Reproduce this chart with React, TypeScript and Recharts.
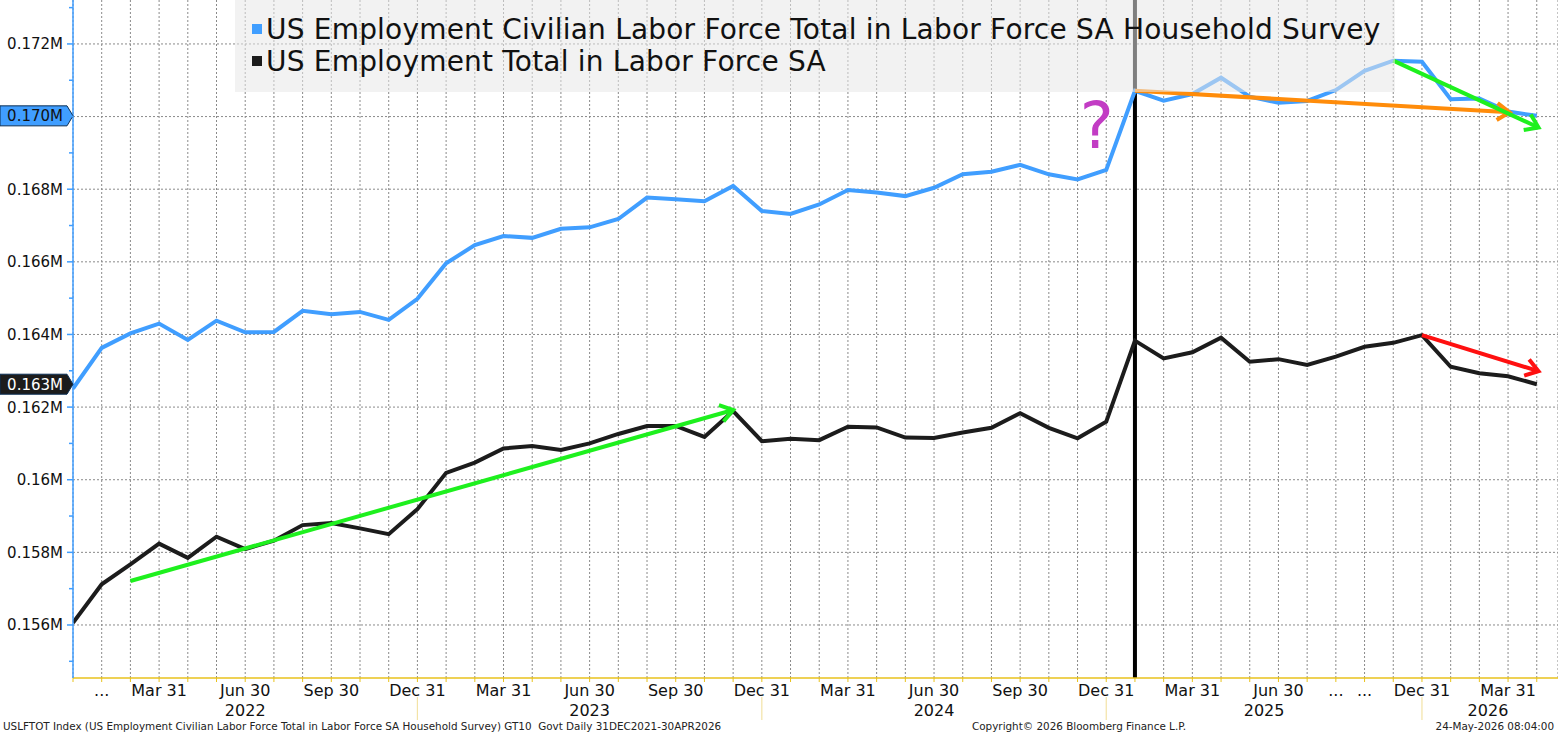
import React from 'react';
import {
  LineChart, Line, XAxis, YAxis, CartesianGrid, ReferenceLine, ReferenceDot, Legend,
} from 'recharts';

// monthly household survey prints, Oct 2025 was never collected
const months = [
  'Dec 2021',
  'Jan 2022', 'Feb 2022', 'Mar 2022', 'Apr 2022', 'May 2022', 'Jun 2022',
  'Jul 2022', 'Aug 2022', 'Sep 2022', 'Oct 2022', 'Nov 2022', 'Dec 2022',
  'Jan 2023', 'Feb 2023', 'Mar 2023', 'Apr 2023', 'May 2023', 'Jun 2023',
  'Jul 2023', 'Aug 2023', 'Sep 2023', 'Oct 2023', 'Nov 2023', 'Dec 2023',
  'Jan 2024', 'Feb 2024', 'Mar 2024', 'Apr 2024', 'May 2024', 'Jun 2024',
  'Jul 2024', 'Aug 2024', 'Sep 2024', 'Oct 2024', 'Nov 2024', 'Dec 2024',
  'Jan 2025', 'Feb 2025', 'Mar 2025', 'Apr 2025', 'May 2025', 'Jun 2025',
  'Jul 2025', 'Aug 2025', 'Sep 2025', 'Nov 2025', 'Dec 2025',
  'Jan 2026', 'Feb 2026', 'Mar 2026', 'Apr 2026',
];

// thousands of persons
const civilianLaborForce = [
  162510,
  163630, 164030, 164300, 163850, 164380, 164060,
  164070, 164650, 164560, 164620, 164400, 164980,
  165960, 166460, 166710, 166660, 166910, 166950,
  167180, 167770, 167720, 167670, 168090, 167400,
  167320, 167580, 167980, 167910, 167810, 168040,
  168410, 168480, 168670, 168410, 168270, 168530,
  170710, 170440, 170620, 171070, 170550, 170380,
  170430, 170730, 171260, 171540, 171510,
  170480, 170500, 170140, 170020,
];

const totalInLaborForce = [
  156060,
  157120, 157670, 158240, 157850, 158430, 158090,
  158320, 158750, 158810, 158660, 158500, 159190,
  160190, 160470, 160860, 160930, 160820, 161000,
  161260, 161480, 161480, 161180, 161890, 161060,
  161130, 161090, 161460, 161440, 161160, 161150,
  161300, 161430, 161830, 161430, 161140, 161600,
  163830, 163340, 163510, 163910, 163250, 163320,
  163160, 163390, 163660, 163770, 163980,
  163110, 162930, 162850, 162630,
];

const monthTickIdx = [1, 3, 6, 9, 12, 15, 18, 21, 24, 27, 30, 33, 36, 39, 42, 44, 45, 47, 50];
const monthTickText = [
  '...', 'Mar 31', 'Jun 30', 'Sep 30', 'Dec 31', 'Mar 31', 'Jun 30', 'Sep 30', 'Dec 31',
  'Mar 31', 'Jun 30', 'Sep 30', 'Dec 31', 'Mar 31', 'Jun 30', '...', '...', 'Dec 31', 'Mar 31',
];

const yearTickIdx = [6, 18, 30, 41.5, 49.3];
const yearTickText = ['2022', '2023', '2024', '2025', '2026'];
const yearBreakIdx = [12, 24, 36, 47];

const yMajor = [156000, 158000, 160000, 162000, 164000, 166000, 168000, 170000, 172000];
const yAll = [
  155000, 156000, 157000, 158000, 159000, 160000, 161000, 162000, 163000, 164000,
  165000, 166000, 167000, 168000, 169000, 170000, 171000, 172000, 173000,
];

const breakIdx = 37;
const questionAt = { x: 35.67, y: 169130 };

// hand-drawn trend arrows: [start, end] as [month index, value]
const upTrend = [[2, 157210], [23, 161920]];
const flatTrend = [[37, 170710], [50.05, 170120]];
const lfDrop = [[46, 171540], [51.06, 169700]];
const totalDrop = [[47, 163980], [51.06, 162990]];

const data = months.map((m, i) => ({
  i,
  month: m,
  clf: civilianLaborForce[i],
  tot: totalInLaborForce[i],
}));

const BLUE = '#409eff';
const BLACK = '#1c1c1c';
const GOLD = '#e8c21c';
const FONT = '"DejaVu Sans", Verdana, sans-serif';

const fmtTick = (v: number) => `${parseFloat((v / 1e6).toFixed(3))}M`;
const fmtTag = (v: number) => `${(v / 1e6).toFixed(3)}M`;

function YTick({ x, y, payload }: any) {
  const v = payload.value;
  const major = v % 2000 === 0;
  return (
    <g>
      <line x1={x + (major ? 4 : 6)} x2={x + 10} y1={y} y2={y} stroke={BLUE} strokeWidth={1.5} />
      {major && v !== 170000 && (
        <text x={x} y={y} dy={5.5} textAnchor="end" fontFamily={FONT} fontSize={15} fill="#111">
          {fmtTick(v)}
        </text>
      )}
    </g>
  );
}

function MonthTick({ x, y, payload }: any) {
  const k = monthTickIdx.indexOf(payload.value);
  if (k < 0) return null;
  return (
    <text x={x} y={y + 12} textAnchor="middle" fontFamily={FONT} fontSize={16} fill="#111">
      {monthTickText[k]}
    </text>
  );
}

function YearTick({ x, y, payload }: any) {
  const v = payload.value;
  if (yearBreakIdx.includes(v)) {
    return <line x1={x} x2={x} y1={y + 1} y2={y + 24} stroke="#f3e3a6" strokeWidth={1.2} />;
  }
  const k = yearTickIdx.indexOf(v);
  if (k < 0) return null;
  return (
    <text x={x} y={y + 20} textAnchor="middle" fontFamily={FONT} fontSize={16} fill="#111">
      {yearTickText[k]}
    </text>
  );
}

function Arrow(color: string) {
  return (p: any) => {
    const { x1, y1, x2, y2 } = p;
    const ang = Math.atan2(y2 - y1, x2 - x1);
    const len = 15;
    const spread = 0.6;
    const a = ang + Math.PI - spread;
    const b = ang + Math.PI + spread;
    const pts = `${x2 + len * Math.cos(a)},${y2 + len * Math.sin(a)} ${x2},${y2} ${x2 + len * Math.cos(b)},${y2 + len * Math.sin(b)}`;
    return (
      <g>
        <line x1={x1} y1={y1} x2={x2} y2={y2} stroke={color} strokeWidth={4} />
        <polyline points={pts} fill="none" stroke={color} strokeWidth={4} />
      </g>
    );
  };
}

function Tag(fill: string, text: string, label: string) {
  return (p: any) => {
    const { cx, cy } = p;
    const pts = `${cx - 73},${cy - 10} ${cx - 6},${cy - 10} ${cx},${cy} ${cx - 6},${cy + 10} ${cx - 73},${cy + 10}`;
    return (
      <g>
        <polygon points={pts} fill={fill} stroke="#0b2f55" strokeWidth={1} />
        <text x={cx - 10} y={cy} dy={5.5} textAnchor="end" fontFamily={FONT} fontSize={15} fill={text}>
          {label}
        </text>
      </g>
    );
  };
}

function LegendBox({ payload }: any) {
  return (
    <div
      style={{
        background: 'rgba(231,231,231,0.55)',
        width: 1160,
        height: 92,
        boxSizing: 'border-box',
        paddingTop: 14,
        paddingLeft: 17,
        fontFamily: FONT,
        fontSize: 28,
        letterSpacing: 0.2,
        lineHeight: '32px',
        color: '#111',
        whiteSpace: 'nowrap',
      }}
    >
      {(payload || []).map((e: any) => (
        <div key={e.value}>
          <span
            style={{
              display: 'inline-block', width: 10, height: 10, background: e.color,
              marginRight: 4, verticalAlign: 'middle', position: 'relative', top: -2,
            }}
          />
          {e.value}
        </div>
      ))}
    </div>
  );
}

const seg = (s: number[][]) => [{ x: s[0][0], y: s[0][1] }, { x: s[1][0], y: s[1][1] }];

const footStyle: React.CSSProperties = {
  position: 'absolute', top: 720, fontFamily: FONT, fontSize: 10.4, color: '#222', whiteSpace: 'pre',
};

export default function App() {
  const lastClf = civilianLaborForce[civilianLaborForce.length - 1];
  const lastTot = totalInLaborForce[totalInLaborForce.length - 1];
  return (
    <div style={{ position: 'absolute', left: 0, top: 0, width: 1558, height: 734, background: '#fff' }}>
      <LineChart width={1558} height={734} data={data} margin={{ top: 0, right: 0, bottom: 0, left: 0 }}>
        <CartesianGrid
          stroke="#8a8a8a"
          strokeDasharray="2 2"
          horizontalValues={yMajor}
        />
        <XAxis
          dataKey="i"
          type="number"
          domain={[0, 51.74]}
          ticks={months.map((_, i) => i)}
          interval={0}
          allowDataOverflow
          height={18}
          tickSize={4}
          tickMargin={2}
          axisLine={{ stroke: GOLD, strokeWidth: 1.5 }}
          tickLine={{ stroke: GOLD }}
          tick={<MonthTick />}
        />
        <XAxis
          xAxisId="year"
          dataKey="i"
          type="number"
          domain={[0, 51.74]}
          ticks={[...yearTickIdx, ...yearBreakIdx].sort((a, b) => a - b)}
          interval={0}
          allowDataOverflow
          height={38}
          tickSize={0}
          tickMargin={0}
          axisLine={false}
          tickLine={false}
          tick={<YearTick />}
        />
        <YAxis
          type="number"
          domain={[154540, 173210]}
          ticks={yAll}
          interval={0}
          allowDataOverflow
          width={73}
          tickSize={6}
          tickMargin={4}
          axisLine={{ stroke: BLUE, strokeWidth: 1.5 }}
          tickLine={false}
          tick={<YTick />}
        />
        <ReferenceLine x={breakIdx} stroke="#000" strokeWidth={4} ifOverflow="visible" />
        <Line
          type="linear"
          dataKey="clf"
          name="US Employment Civilian Labor Force Total in Labor Force SA Household Survey"
          stroke={BLUE}
          strokeWidth={4}
          dot={false}
          isAnimationActive={false}
        />
        <Line
          type="linear"
          dataKey="tot"
          name="US Employment Total in Labor Force SA"
          stroke={BLACK}
          strokeWidth={4}
          dot={false}
          isAnimationActive={false}
        />
        <ReferenceLine segment={seg(upTrend)} ifOverflow="visible" shape={Arrow('#1ef01e')} />
        <ReferenceLine segment={seg(flatTrend)} ifOverflow="visible" shape={Arrow('#ff8c0a')} />
        <ReferenceLine segment={seg(lfDrop)} ifOverflow="visible" shape={Arrow('#1ef01e')} />
        <ReferenceLine segment={seg(totalDrop)} ifOverflow="visible" shape={Arrow('#ff1010')} />
        <ReferenceDot
          x={questionAt.x}
          y={questionAt.y}
          ifOverflow="visible"
          shape={(p: any) => (
            <text x={p.cx} y={p.cy} textAnchor="middle" fontFamily={FONT} fontSize={64} fill="#c23cc4">
              ?
            </text>
          )}
        />
        <ReferenceDot x={0} y={lastClf} ifOverflow="visible" shape={Tag(BLUE, '#111', fmtTag(lastClf))} />
        <ReferenceDot x={0} y={lastTot} ifOverflow="visible" shape={Tag(BLACK, '#fff', fmtTag(lastTot))} />
        <Legend
          layout="horizontal"
          verticalAlign="middle"
          align="center"
          wrapperStyle={{ left: 235, top: 0, width: 1160, height: 92 }}
          content={<LegendBox />}
        />
      </LineChart>
      <div style={{ ...footStyle, left: 3 }}>
        USLFTOT Index (US Employment Civilian Labor Force Total in Labor Force SA Household Survey) GT10  Govt Daily 31DEC2021-30APR2026
      </div>
      <div style={{ ...footStyle, left: 972 }}>
        Copyright© 2026 Bloomberg Finance L.P.
      </div>
      <div style={{ ...footStyle, right: 4 }}>
        24-May-2026 08:04:00
      </div>
    </div>
  );
}
